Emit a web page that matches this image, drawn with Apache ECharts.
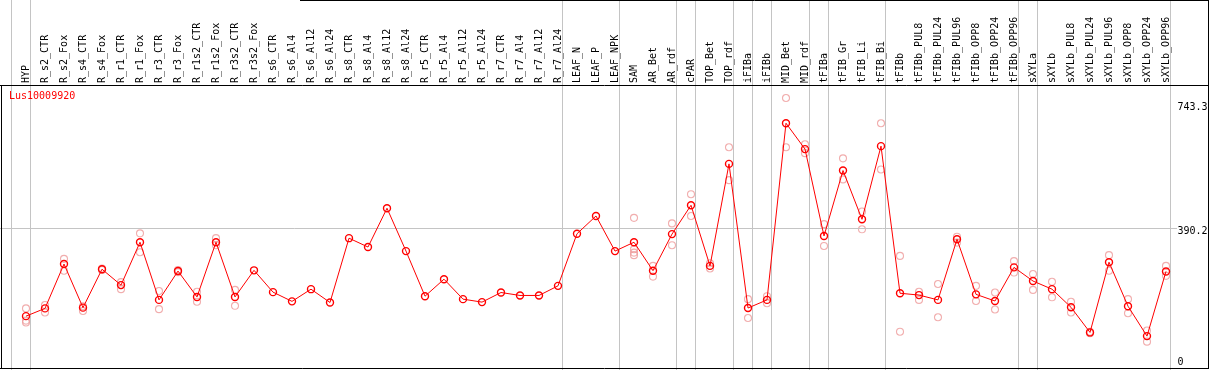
<!DOCTYPE html>
<html><head><meta charset="utf-8">
<script src="https://cdn.jsdelivr.net/npm/echarts@6/dist/echarts.min.js"></script>
<style>html,body{margin:0;padding:0;background:#fff}#c{width:1209px;height:370px}</style>
</head><body><div id="c"></div>
<script>
// ---------------- data ----------------
const chartTitle = 'Lus10009920';
const categories = ['HYP','R_s2_CTR','R_s2_Fox','R_s4_CTR','R_s4_Fox','R_r1_CTR','R_r1_Fox','R_r3_CTR','R_r3_Fox',
  'R_r1s2_CTR','R_r1s2_Fox','R_r3s2_CTR','R_r3s2_Fox','R_s6_CTR','R_s6_Al4','R_s6_Al12','R_s6_Al24',
  'R_s8_CTR','R_s8_Al4','R_s8_Al12','R_s8_Al24','R_r5_CTR','R_r5_Al4','R_r5_Al12','R_r5_Al24',
  'R_r7_CTR','R_r7_Al4','R_r7_Al12','R_r7_Al24','LEAF_N','LEAF_P','LEAF_NPK','SAM','AR_Bet','AR_rdf',
  'cPAR','TOP_Bet','TOP_rdf','iFIBa','iFIBb','MID_Bet','MID_rdf','tFIBa','tFIB_Gr','tFIB_Li','tFIB_Bi',
  'tFIBb','tFIBb_PUL8','tFIBb_PUL24','tFIBb_PUL96','tFIBb_OPP8','tFIBb_OPP24','tFIBb_OPP96',
  'sXYLa','sXYLb','sXYLb_PUL8','sXYLb_PUL24','sXYLb_PUL96','sXYLb_OPP8','sXYLb_OPP24','sXYLb_OPP96'];
const means = [153,174,294,176,280,237,353,197,275,205,353,205,277,218,193,226,190,364,340,445,329,207,253,199,191,
  217,209,209,235,376,424,329,353,276,375,453,289,565,175,197,675,605,370,547,415,613,
  215,210,197,361,212,194,285,248,226,177,109,299,180,99,274];
const replicates = [[174,141,136],[183,163],[308,276],[180,167],[282,278],[245,226],[377,326],[221,172],[278,272],
  [219,192],[364,345],[224,181],[],[],[],[],[],[],[],[],[],[],[],[],[],[],[],[],[],[],[],[],
  [419,334,325,318],[289,260],[404,345],[483,424],[296,282],[610,521],[199,148],[207,188],[743.3,610],[618,594],
  [402,343],[580,523],[436,388],[675,550],[316,111],[219,197],[240,150],[368,352],[235,194],[217,171],[302,271],
  [267,224],[246,204],[192,163],[111,107],[318,276],[199,161],[114,84],[289,262]];
const groupSizes = [1,28,3,3,1,2,1,1,2,1,3,7,1,7];
const yTickValues = [0, 390.2, 743.3];
const gridLineValue = 390.2;

// ---------------- layout ----------------
const W = 1209, H = 370;
const X0 = 26, STEP = 19;            // pixel of first category, spacing
const Y_ZERO = 372.7, Y_PER = 0.36958; // pixel of value 0, pixels per unit
const xMin = (0 - X0) / STEP, xMax = (W - X0) / STEP;
const yMax = Y_ZERO / Y_PER;
const sepOff = 4.5 / STEP;
const labelShift = {0: -10.4, 390.2: 2.5, 743.3: 9.7};

const meanData = means.map((v, i) => [i, v]);
const repData = [];
replicates.forEach((arr, i) => arr.forEach(v => repData.push([i, v])));
const seps = [-1 + sepOff];
let acc = -1;
groupSizes.forEach(n => { acc += n; seps.push(acc + sepOff); });

const FONT = 'DejaVu Sans Mono';
const rich = {};
yTickValues.forEach((v, k) => {
  const d = labelShift[v] || 0;
  rich['t' + k] = {fontFamily: FONT, fontSize: 10, color: '#000',
    padding: d >= 0 ? [2 * d, 0, 0, 0] : [0, 0, -2 * d, 0]};
});

const chart = echarts.init(document.getElementById('c'), null, {renderer: 'canvas'});
chart.setOption({
  animation: false,
  backgroundColor: '#fff',
  title: {text: chartTitle, left: 9, top: 91, padding: 0,
    textStyle: {color: '#ff0000', fontSize: 10, fontWeight: 'normal', fontFamily: FONT}},
  grid: {left: 0, top: 0, width: W, height: Y_ZERO, containLabel: false, outerBoundsMode: 'none'},
  xAxis: {
    type: 'value', min: xMin, max: xMax, position: 'top', offset: -85,
    axisLine: {show: false}, axisTick: {show: false}, splitLine: {show: false},
    axisLabel: {customValues: categories.map((c, i) => i), rotate: 90, margin: 2,
      formatter: v => categories[Math.round(v)] || '',
      fontFamily: FONT, fontSize: 10, color: '#000'}
  },
  yAxis: {
    type: 'value', min: 0, max: yMax, position: 'right',
    axisLine: {show: false}, axisTick: {show: false}, splitLine: {show: false},
    axisLabel: {customValues: yTickValues, inside: true, align: 'left', margin: 31.5,
      verticalAlign: 'middle',
      formatter: v => { const k = yTickValues.indexOf(v); return '{t' + k + '|' + v + '}'; },
      rich: rich, fontFamily: FONT, fontSize: 10, color: '#000'}
  },
  series: [
    {
      type: 'scatter', data: repData, symbol: 'circle', symbolSize: 7, z: 3,
      itemStyle: {color: 'rgba(0,0,0,0)', borderColor: '#ee9a9a', borderWidth: 1.1},
      markLine: {
        silent: true, symbol: ['none', 'none'], label: {show: false}, animation: false,
        lineStyle: {color: '#c4c4c4', width: 1, type: 'solid'},
        data: seps.map(s => ({xAxis: s})).concat([[
          {coord: [xMin, gridLineValue]}, {coord: [(1177 - X0) / STEP, gridLineValue]}
        ]])
      }
    },
    {
      type: 'line', data: meanData, symbol: 'circle', symbolSize: 7, z: 5,
      lineStyle: {color: '#ff0000', width: 1},
      itemStyle: {color: 'rgba(0,0,0,0)', borderColor: '#ff0000', borderWidth: 1.4}
    }
  ],
  graphic: [
    {type: 'line', z: 100, shape: {x1: 300, y1: 0.5, x2: W, y2: 0.5}, style: {stroke: '#000', lineWidth: 1}},
    {type: 'line', z: 100, shape: {x1: 0, y1: 85.5, x2: W, y2: 85.5}, style: {stroke: '#000', lineWidth: 1}},
    {type: 'line', z: 100, shape: {x1: 0, y1: 368.5, x2: W, y2: 368.5}, style: {stroke: '#000', lineWidth: 1}},
    {type: 'line', z: 100, shape: {x1: 1.5, y1: 85, x2: 1.5, y2: 369}, style: {stroke: '#000', lineWidth: 1}},
    {type: 'line', z: 100, shape: {x1: 1208.5, y1: 0, x2: 1208.5, y2: 369}, style: {stroke: '#000', lineWidth: 1}}
  ]
});
</script>
</body></html>
